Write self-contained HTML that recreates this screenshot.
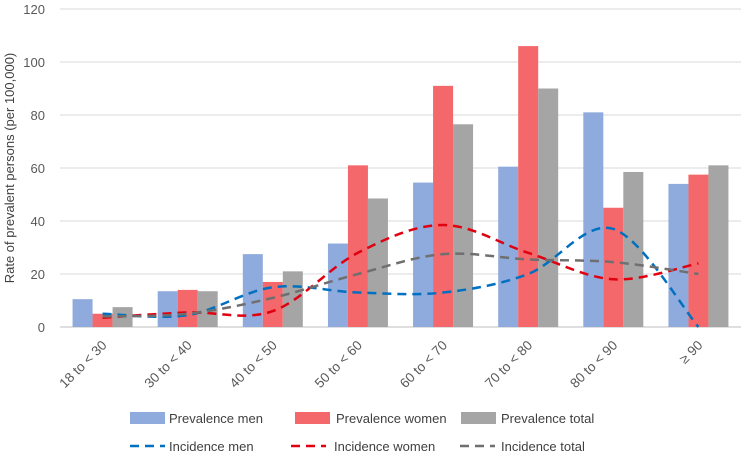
<!DOCTYPE html>
<html><head><meta charset="utf-8"><style>
body{margin:0;background:#fff;}
svg{display:block;font-family:"Liberation Sans",sans-serif;}
</style></head><body>
<svg id="c" width="752" height="453"></svg>
<script>
const categories=["18 to < 30","30 to < 40","40 to < 50","50 to < 60","60 to < 70","70 to < 80","80 to < 90","≥ 90"];
const prevMen=[10.5,13.5,27.5,31.5,54.5,60.5,81,54];
const prevWomen=[5,14,17,61,91,106,45,57.5];
const prevTotal=[7.5,13.5,21,48.5,76.5,90,58.5,61];
const incMen=[5,4.5,15,13,13,20,37,0];
const incWomen=[3.5,5.5,6,28,38.5,28,18,24];
const incTotal=[4,5,11,20,27.5,25.5,24.5,20];
const yTicks=[0,20,40,60,80,100,120];
const NS="http://www.w3.org/2000/svg";
const svg=document.getElementById("c");
const x0=60,x1=741,y0=327,yTop=9,ymax=120;
const bw=(x1-x0)/categories.length;
const y=v=>y0-(v/ymax)*(y0-yTop);
const xc=i=>x0+bw*(i+0.5);
function el(t,a,p){const e=document.createElementNS(NS,t);for(const k in a)e.setAttribute(k,a[k]);(p||svg).appendChild(e);return e;}
yTicks.forEach(t=>{
 const g=el("line",{x1:x0,x2:x1,y1:y(t),y2:y(t),stroke:t===0?"#bfbfbf":"#d9d9d9","stroke-width":1});
 
 
 const l=el("text",{x:x0-15,y:y(t)+5,"text-anchor":"end","font-size":13,fill:"#595959"});
 l.textContent=t;
 
 
});
const yt=el("text",{x:14,y:168,transform:"rotate(-90 14 168)","text-anchor":"middle","font-size":13,fill:"#404040"});
yt.textContent="Rate of prevalent persons (per 100,000)";


const series=[[prevMen,"#8faadc"],[prevWomen,"#f4676a"],[prevTotal,"#a5a5a5"]];
const w=20;
series.forEach((s,si)=>{
 s[0].forEach((v,i)=>{
  const r=el("rect",{x:xc(i)-30+si*w,y:y(v),width:w,height:y0-y(v),fill:s[1]});
  
  
 });
});
function smooth(vals){
 const p=vals.map((v,i)=>[xc(i),y(v)]);
 let d="M"+p[0][0]+","+p[0][1];
 for(let i=0;i<p.length-1;i++){
  const a=p[i-1]||p[i],b=p[i],c=p[i+1],e=p[i+2]||c;
  const c1=[b[0]+(c[0]-a[0])/6,b[1]+(c[1]-a[1])/6],c2=[c[0]-(e[0]-b[0])/6,c[1]-(e[1]-b[1])/6];
  d+=` C${c1[0]},${c1[1]} ${c2[0]},${c2[1]} ${c[0]},${c[1]}`;
 }
 return d;
}
[[incMen,"#0070c0"],[incWomen,"#e00010"],[incTotal,"#6f6f6f"]].forEach(s=>{
 const l=el("path",{d:smooth(s[0]),fill:"none",stroke:s[1],"stroke-width":2.5,"stroke-dasharray":"9,6"});
 
 
});
categories.forEach((c,i)=>{
 const tx=xc(i)+5,ty=346;
 const t=el("text",{x:tx,y:ty,transform:`rotate(-45 ${tx} ${ty})`,"text-anchor":"end","font-size":13.5,fill:"#595959"});
 t.textContent=c;
 
 
});
const legend=[["Prevalence men","#8faadc",130,169,418,0],["Prevalence women","#f4676a",295,336,418,0],["Prevalence total","#a5a5a5",461,501,418,0],
["Incidence men","#0070c0",130,169,446,1],["Incidence women","#e00010",291,334,446,1],["Incidence total","#6f6f6f",460,501,446,1]];
legend.forEach(L=>{
 let m;
 if(L[5]===0){m=el("rect",{x:L[2],y:L[4]-6,width:35,height:12,fill:L[1]});}
 else{m=el("line",{x1:L[2],x2:L[2]+35,y1:L[4],y2:L[4],stroke:L[1],"stroke-width":2.5,"stroke-dasharray":"9,6"});}
 
 
 const t=el("text",{x:L[3],y:L[4]+5,"font-size":13,fill:"#404040"});
 t.textContent=L[0];
 
 
});
</script>
</body></html>
